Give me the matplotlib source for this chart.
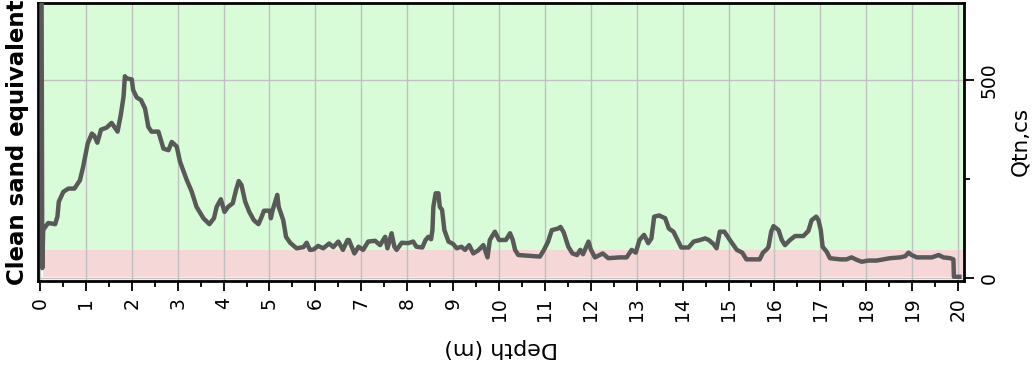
import matplotlib
matplotlib.use("Agg")
import matplotlib.pyplot as plt
from matplotlib.ticker import MultipleLocator

# Depth (m) and clean sand equivalent normalised cone resistance
depth = [0.035, 0.05, 0.07, 0.09, 0.18, 0.33, 0.38, 0.41, 0.51, 0.62, 0.75, 0.87, 0.94,
         1.04, 1.13, 1.18, 1.25, 1.33, 1.45, 1.56, 1.69, 1.76, 1.82, 1.85, 1.87, 2.0,
         2.03, 2.11, 2.2, 2.29, 2.36, 2.43, 2.58, 2.69, 2.8, 2.87, 2.98, 3.05, 3.2,
         3.3, 3.41, 3.56, 3.69, 3.79, 3.85, 3.94, 4.02, 4.1, 4.2, 4.27, 4.33, 4.39,
         4.47, 4.56, 4.66, 4.76, 4.83, 4.88, 5.01, 5.03, 5.07, 5.17, 5.2, 5.3, 5.36,
         5.45, 5.59, 5.74, 5.81, 5.88, 5.96, 6.06, 6.17, 6.3, 6.39, 6.5, 6.6, 6.7,
         6.73, 6.85, 6.94, 7.04, 7.15, 7.3, 7.41, 7.52, 7.57, 7.66, 7.72, 7.77, 7.88,
         8.02, 8.13, 8.2, 8.33, 8.4, 8.46, 8.52, 8.55, 8.57, 8.62, 8.68, 8.71, 8.76,
         8.81, 8.9, 9.0, 9.08, 9.18, 9.26, 9.35, 9.44, 9.55, 9.66, 9.75, 9.8, 9.91,
         10.0, 10.15, 10.24, 10.3, 10.35, 10.42, 10.89, 10.98, 11.07, 11.15, 11.29,
         11.34, 11.41, 11.51, 11.6, 11.7, 11.77, 11.83, 11.95, 12.0, 12.09, 12.26,
         12.38, 12.64, 12.78, 12.89, 12.98, 13.06, 13.16, 13.25, 13.32, 13.38, 13.49,
         13.62, 13.7, 13.8, 13.89, 13.97, 14.13, 14.24, 14.38, 14.49, 14.57, 14.67,
         14.74, 14.81, 14.91, 15.03, 15.18, 15.3, 15.39, 15.55, 15.68, 15.75, 15.82,
         15.87, 15.93, 15.98, 16.09, 16.16, 16.23, 16.34, 16.45, 16.63, 16.74, 16.81,
         16.91, 16.96, 17.01, 17.05, 17.14, 17.21, 17.43, 17.57, 17.68, 17.79, 17.9,
         18.05, 18.23, 18.37, 18.52, 18.74, 18.85, 18.92, 18.99, 19.1, 19.28, 19.43,
         19.58, 19.68, 19.83, 19.9, 19.91, 20.03]
qtn_cs = [690, 25, 121, 125, 139, 136, 155, 193, 218, 226, 226, 247, 281,
          340, 365, 360, 342, 375, 380, 392, 370, 412, 458, 510, 505, 502,
          475, 456, 450, 428, 382, 370, 370, 327, 323, 344, 332, 294, 247,
          220, 180, 151, 136, 151, 180, 199, 167, 180, 189, 222, 245, 235,
          193, 167, 146, 136, 155, 170, 170, 151, 172, 210, 180, 146, 104,
          89, 75, 78, 89, 71, 72, 81, 75, 87, 78, 92, 71, 96,
          96, 62, 79, 71, 92, 94, 83, 104, 75, 113, 79, 71, 89,
          88, 92, 79, 77, 96, 104, 98, 121, 180, 214, 214, 180, 172,
          121, 92, 86, 75, 79, 71, 83, 62, 70, 83, 52, 96, 117,
          96, 96, 113, 96, 71, 58, 54, 71, 92, 121, 125,
          129, 115, 79, 62, 58, 71, 60, 92, 72, 52, 62,
          50, 52, 52, 71, 64, 96, 109, 88, 100, 155, 158,
          151, 125, 117, 96, 77, 77, 92, 96, 100, 96, 86,
          75, 117, 117, 96, 71, 64, 47, 47, 47, 64, 71,
          78, 117, 131, 121, 96, 83, 96, 106, 106, 119, 146,
          155, 146, 121, 79, 66, 50, 47, 47, 52, 46, 41,
          44, 44, 47, 50, 52, 55, 64, 58, 52, 52, 52,
          58, 52, 50, 47, 3, 3]

# background zones (sand-like above, clay-like below)
zone_depth = [0.07, 20.1]
zone_split = 70
zone_top = 690

fig = plt.figure(figsize=(10.32, 3.67), dpi=100)
ax = fig.add_axes([0.0371, 0.234, 0.897, 0.7587])

ax.fill_between(zone_depth, 2, zone_split, color="#f6d7d7", lw=0, zorder=0)
ax.fill_between(zone_depth, zone_split, zone_top, color="#d8fcd8", lw=0, zorder=0)
ax.plot(depth, qtn_cs, color="#595959", lw=3.2, zorder=3)

ax.set_xlim(-0.037, 20.13)
ax.set_ylim(-8, 696)
ax.xaxis.set_major_locator(MultipleLocator(1))
ax.xaxis.set_minor_locator(MultipleLocator(0.5))
ax.yaxis.set_major_locator(MultipleLocator(500))
ax.yaxis.set_minor_locator(MultipleLocator(250))
ax.grid(True, which="major", color="#c0c0c0", lw=1.0, zorder=1)

ax.yaxis.tick_right()
ax.yaxis.set_label_position("right")
ax.tick_params(axis="both", which="major", length=7.5, width=1.3, labelsize=13.5, pad=4)
ax.tick_params(axis="both", which="minor", length=4.5, width=1.3)
ax.tick_params(axis="x", labelrotation=90)
ax.tick_params(axis="y", labelrotation=90)
for lab in ax.get_yticklabels():
    lab.set_va("center")

for s in ax.spines.values():
    s.set_linewidth(2)

ax.set_xlabel("Depth (m)", fontsize=16, rotation=180, labelpad=12)
ax.set_ylabel("Qtn,cs", fontsize=15.5, rotation=90, labelpad=8)
ax.text(-0.022, 0.5, "Clean sand equivalent", transform=ax.transAxes, rotation=90,
        ha="center", va="center", fontsize=16.5, fontweight="bold")

fig.savefig("out.png", dpi=100)
